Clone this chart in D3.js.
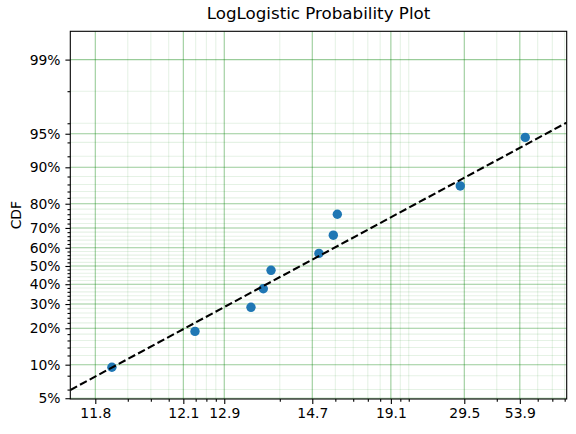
<!DOCTYPE html>
<html>
<head>
<meta charset="utf-8">
<script src="https://cdn.jsdelivr.net/npm/d3@7"></script>
<style>
    body { margin: 0; background: #fff; }
    svg { display: block; font-family: "DejaVu Sans", sans-serif; }
</style>
</head>
<body>
<div id="chart"></div>
<script>

// x axis lives in shifted time (t - gamma), log spaced; labels are the ones printed on the plot
let xTickValues = [2, 6, 10, 30, 80, 200, 400];
let xTickLabels = ["11.8", "12.1", "12.9", "14.7", "19.1", "29.5", "53.9"];

// y axis: CDF on a logit scale
let yTickValues = [0.05, 0.1, 0.2, 0.3, 0.4, 0.5, 0.6, 0.7, 0.8, 0.9, 0.95, 0.99];
let yTickLabels = ["5%", "10%", "20%", "30%", "40%", "50%", "60%", "70%", "80%", "90%", "95%", "99%"];

// failure points (shifted time) and their plotting positions
let failureTimes = [2.46, 6.94, 13.96, 16.28, 17.93, 32.6, 39.0, 41.0, 190.2, 428];
let failureCDF = [0.095, 0.189, 0.285, 0.376, 0.476, 0.570, 0.665, 0.760, 0.856, 0.946];

// fitted log-logistic parameters
let fitAlpha = 25.9;
let fitBeta = 0.961;


class ProbPlot {

    constructor(parentElement){
        this.parentElement = parentElement;
        this.initVis();
    }

    initVis(){
        let vis = this;

        vis.width = 576;
        vis.height = 434;
        vis.margin = {top: 31.3, right: 9.3, bottom: 35, left: 70.3};

        vis.svg = d3.select("#" + vis.parentElement).append("svg")
            .attr("width", vis.width)
            .attr("height", vis.height);

        vis.logit = p => Math.log(p / (1 - p));

        vis.x = d3.scaleLog()
            .domain([1.464, 718])
            .range([vis.margin.left, vis.width - vis.margin.right]);

        vis.y = d3.scaleLinear()
            .domain([vis.logit(0.0492), vis.logit(0.99465)])
            .range([vis.height - vis.margin.bottom, vis.margin.top]);

        vis.yPos = p => vis.y(vis.logit(p));

        // minor ticks
        vis.xMinor = [];
        [1, 10, 100].forEach(base => {
            d3.range(1, 10).forEach(k => {
                let v = k * base;
                if (v >= 1.464 && v <= 718 && !xTickValues.includes(v)) vis.xMinor.push(v);
            });
        });
        vis.yMinor = d3.range(3, 50).map(i => +(i * 0.02).toFixed(2))
            .filter(p => !yTickValues.some(t => Math.abs(t - p) < 1e-6));

        let x0 = vis.margin.left, x1 = vis.width - vis.margin.right;
        let y0 = vis.margin.top, y1 = vis.height - vis.margin.bottom;

        vis.svg.append("clipPath").attr("id", "plotClip")
            .append("rect")
            .attr("x", x0).attr("y", y0)
            .attr("width", x1 - x0).attr("height", y1 - y0);

        // grid
        let grid = vis.svg.append("g").attr("stroke-width", 1.1);
        grid.selectAll(".xminor").data(vis.xMinor).enter().append("line")
            .attr("x1", d => vis.x(d)).attr("x2", d => vis.x(d))
            .attr("y1", y0).attr("y2", y1)
            .attr("stroke", "#008000").attr("stroke-opacity", 0.1);
        grid.selectAll(".yminor").data(vis.yMinor).enter().append("line")
            .attr("y1", d => vis.yPos(d)).attr("y2", d => vis.yPos(d))
            .attr("x1", x0).attr("x2", x1)
            .attr("stroke", "#008000").attr("stroke-opacity", 0.1);
        grid.selectAll(".xmajor").data(xTickValues).enter().append("line")
            .attr("x1", d => vis.x(d)).attr("x2", d => vis.x(d))
            .attr("y1", y0).attr("y2", y1)
            .attr("stroke", "#008000").attr("stroke-opacity", 0.4);
        grid.selectAll(".ymajor").data(yTickValues).enter().append("line")
            .attr("y1", d => vis.yPos(d)).attr("y2", d => vis.yPos(d))
            .attr("x1", x0).attr("x2", x1)
            .attr("stroke", "#008000").attr("stroke-opacity", 0.4);

        // points
        vis.svg.append("g")
            .attr("clip-path", "url(#plotClip)")
            .selectAll("circle")
            .data(failureTimes)
            .enter()
            .append("circle")
            .attr("cx", d => vis.x(d))
            .attr("cy", (d, i) => vis.yPos(failureCDF[i]))
            .attr("r", 4.7)
            .attr("fill", "#1f77b4");

        // fitted line, straight on these axes so the two domain ends are enough
        let fitCDF = t => 1 / (1 + Math.pow(t / fitAlpha, -fitBeta));
        let ends = vis.x.domain();
        vis.svg.append("path")
            .attr("clip-path", "url(#plotClip)")
            .datum(ends)
            .attr("d", d3.line().x(d => vis.x(d)).y(d => vis.yPos(fitCDF(d))))
            .attr("fill", "none")
            .attr("stroke", "black")
            .attr("stroke-width", 2.1)
            .attr("stroke-dasharray", "7.7,3.3");

        // axes
        let xAxis = d3.axisBottom(vis.x)
            .tickValues(xTickValues)
            .tickFormat((d, i) => xTickLabels[i])
            .tickSize(4.9).tickPadding(4.4);
        let xAxisMinor = d3.axisBottom(vis.x)
            .tickValues(vis.xMinor).tickFormat("").tickSize(2.8);
        let yAxis = d3.axisLeft(vis.y)
            .tickValues(yTickValues.map(vis.logit))
            .tickFormat((d, i) => yTickLabels[i])
            .tickSize(4.9).tickPadding(4.9);
        let yAxisMinor = d3.axisLeft(vis.y)
            .tickValues(vis.yMinor.map(vis.logit)).tickFormat("").tickSize(2.8);

        [xAxis, xAxisMinor].forEach(ax => {
            vis.svg.append("g").attr("class", "axis")
                .attr("transform", `translate(0, ${y1})`).call(ax);
        });
        [yAxis, yAxisMinor].forEach(ax => {
            vis.svg.append("g").attr("class", "axis")
                .attr("transform", `translate(${x0}, 0)`).call(ax);
        });

        vis.svg.selectAll(".axis .domain").remove();
        vis.svg.selectAll(".axis text")
            .attr("fill", "#000")
            .style("font-size", "13.9px")
            .style("font-family", "DejaVu Sans, sans-serif");
        vis.svg.selectAll(".axis line").attr("stroke", "#000").attr("stroke-width", 1.1);

        // frame
        vis.svg.append("rect")
            .attr("x", x0).attr("y", y0)
            .attr("width", x1 - x0).attr("height", y1 - y0)
            .attr("fill", "none")
            .attr("stroke", "#000")
            .attr("stroke-width", 1.1);

        // labels
        vis.svg.append("text")
            .attr("x", (x0 + x1) / 2)
            .attr("y", 19.3)
            .attr("text-anchor", "middle")
            .style("font-size", "16.7px")
            .text("LogLogistic Probability Plot");

        vis.svg.append("text")
            .attr("transform", `translate(21, ${(y0 + y1) / 2}) rotate(-90)`)
            .attr("text-anchor", "middle")
            .style("font-size", "13.9px")
            .text("CDF");
    }
}

let myPlot = new ProbPlot("chart");
</script>
</body>
</html>
